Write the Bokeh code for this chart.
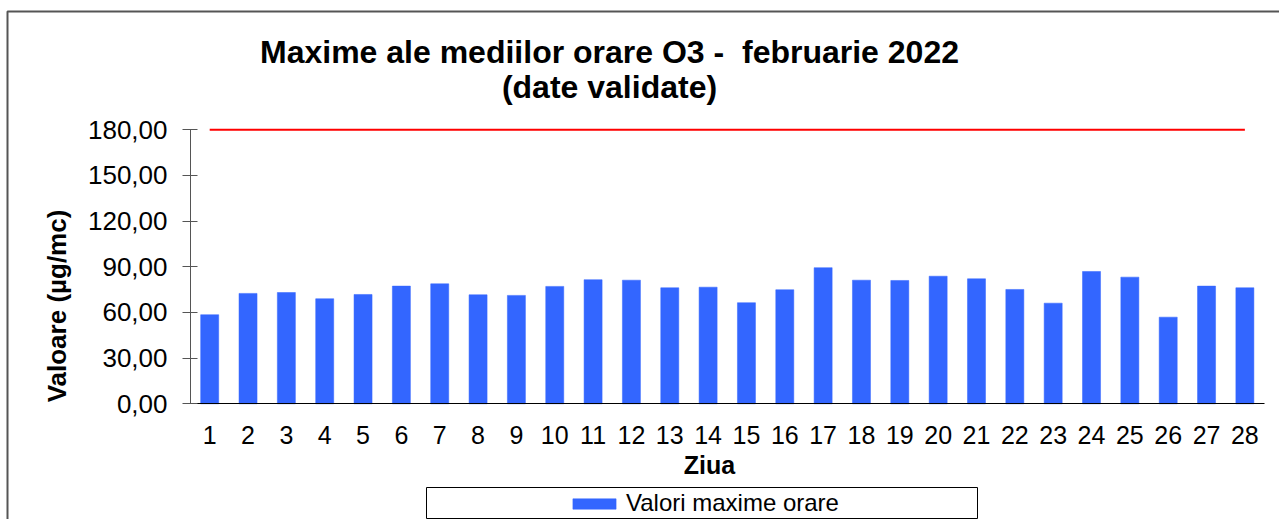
import math
from bokeh.plotting import figure
from bokeh.models import Label, BoxAnnotation, Legend, LegendItem, FixedTicker, Range1d
from bokeh.embed import file_html
from bokeh.resources import INLINE

# ---- data ----
days = [1, 2, 3, 4, 5, 6, 7, 8, 9, 10, 11, 12, 13, 14,
        15, 16, 17, 18, 19, 20, 21, 22, 23, 24, 25, 26, 27, 28]
values = [58.5, 72.5, 73.1, 69.0, 71.8, 77.3, 78.8, 71.6, 71.2, 77.1, 81.5, 81.2, 76.2, 76.6,
          66.4, 74.9, 89.4, 81.2, 81.0, 83.8, 82.1, 75.1, 66.1, 86.9, 83.2, 56.9, 77.3, 76.2]
limit = [180, 180, 180, 180, 180, 180, 180, 180, 180, 180, 180, 180, 180, 180,
         180, 180, 180, 180, 180, 180, 180, 180, 180, 180, 180, 180, 180, 180]
y_ticks = [0, 30, 60, 90, 120, 150, 180]
title_line1 = "Maxime ale mediilor orare O3 - \u00a0februarie 2022"
title_line2 = "(date validate)"
legend_label = "Valori maxime orare"
x_title = "Ziua"
y_title = "Valoare (µg/mc)"

FONT = "Liberation Sans"
BLUE = "#3366FF"
W, H = 1279, 519

# frame covers the whole canvas; axes are pinned with fixed_location
p = figure(x_range=Range1d(-4.456, 28.903), y_range=Range1d(-76.0, 264.9),
           width=W, height=H, output_backend="svg", toolbar_location=None,
           min_border=0)
p.outline_line_color = None
p.xgrid.visible = False
p.ygrid.visible = False
p.background_fill_color = "white"
p.border_fill_color = "white"

bars = p.vbar(x=days, top=values, width=0.47, fill_color=BLUE, line_color=BLUE, line_alpha=0.5)
p.line(x=days, y=limit, line_color="#FF0000", line_width=2)

# y axis
yax = p.yaxis[0]
yax.fixed_location = 0.5
yax.bounds = (0, 180)
yax.ticker = FixedTicker(ticks=y_ticks)
yax.major_label_overrides = {t: f"{t:.2f}".replace(".", ",") for t in y_ticks}
yax.minor_tick_line_color = None
yax.major_tick_in = 7
yax.major_tick_out = 8
yax.major_label_standoff = 15
yax.axis_line_color = "#555555"
yax.major_tick_line_color = "#555555"
yax.major_label_text_font = FONT
yax.major_label_text_font_size = "26px"
yax.major_label_text_color = "black"

# x axis
xax = p.xaxis[0]
xax.fixed_location = 0
xax.bounds = (0.31, 28.5)
xax.ticker = FixedTicker(ticks=days)
xax.major_label_overrides = {d: str(d) for d in days}
xax.minor_tick_line_color = None
xax.major_tick_in = 0
xax.major_tick_out = 0
xax.major_tick_line_color = None
xax.axis_line_color = "black"
xax.major_label_standoff = 22
xax.major_label_text_font = FONT
xax.major_label_text_font_size = "25px"
xax.major_label_text_color = "black"

# axis titles placed where the reference has them (screen units, canvas bottom-left origin)
p.add_layout(Label(x=56, y=H - 305.5, x_units="screen", y_units="screen", text=y_title,
                   angle=math.pi / 2, text_font=FONT, text_font_size="26px", text_font_style="bold",
                   text_align="center", text_baseline="middle", text_color="black"))
p.add_layout(Label(x=709, y=H - 464.3, x_units="screen", y_units="screen", text=x_title,
                   text_font=FONT, text_font_size="25px", text_font_style="bold",
                   text_align="center", text_baseline="middle", text_color="black"))

# title (two lines)
for txt, yy in ((title_line1, H - 51.2), (title_line2, H - 86.8)):
    p.add_layout(Label(x=609, y=yy, x_units="screen", y_units="screen", text=txt,
                       text_font=FONT, text_font_size="32px", text_font_style="bold",
                       text_align="center", text_baseline="alphabetic", text_color="black"))

# outer chart border (left and top visible)
p.add_layout(BoxAnnotation(left=7, right=3000, top=H - 11, bottom=-3000,
                           left_units="screen", right_units="screen",
                           top_units="screen", bottom_units="screen",
                           fill_alpha=0, line_color="#555555", line_width=2, line_alpha=1))

# legend box
p.add_layout(BoxAnnotation(left=426, right=977, top=H - 487, bottom=H - 518,
                           left_units="screen", right_units="screen",
                           top_units="screen", bottom_units="screen",
                           fill_color="white", fill_alpha=1, line_color="black", line_width=1, line_alpha=1))

legend = Legend(items=[LegendItem(label=legend_label, renderers=[bars])],
                location=(567, 2), orientation="horizontal",
                padding=0, margin=0, spacing=0,
                glyph_width=54, glyph_height=13, label_standoff=5,
                label_text_font=FONT, label_text_font_size="24px", label_text_color="black",
                border_line_alpha=0, background_fill_alpha=0)
p.add_layout(legend, "center")

open("out.html", "w").write(file_html(p, INLINE))
